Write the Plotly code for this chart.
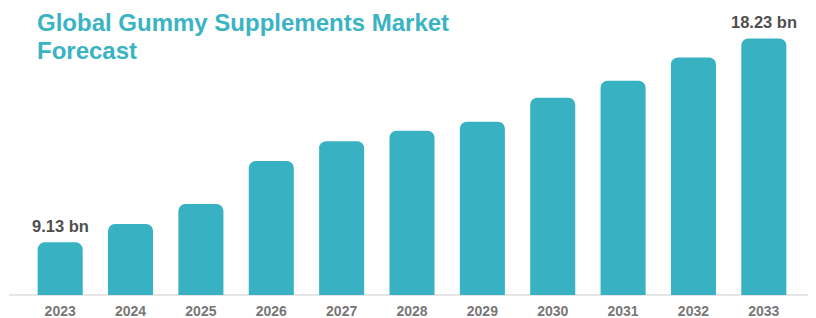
import plotly.graph_objects as go

years = ["2023", "2024", "2025", "2026", "2027", "2028", "2029", "2030", "2031", "2032", "2033"]
values = [9.13, 9.95, 10.84, 12.76, 13.64, 14.11, 14.51, 15.58, 16.34, 17.38, 18.23]
label_idx = [0, 10]
title_lines = ["Global Gummy Supplements Market", "Forecast"]

BAR = "#38B2C2"
FONT = "Liberation Sans, Arial, Helvetica, sans-serif"

fig = go.Figure()
fig.add_trace(go.Bar(
    x=years, y=values,
    marker=dict(color=BAR, cornerradius=7, line=dict(width=0)),
    width=0.64,
    hoverinfo="skip",
))

for i in label_idx:
    fig.add_annotation(
        x=i, y=values[i], text=f"<b>{values[i]:.2f} bn</b>",
        showarrow=False, yanchor="bottom", yshift=5,
        font=dict(family=FONT, size=16.5, color="#4f4f4f"),
    )

for k, line in enumerate(title_lines):
    fig.add_annotation(
        xref="paper", yref="paper", x=0.0127, y=1.0, xanchor="left", yanchor="middle",
        text=f"<b>{line}</b>", align="left", showarrow=False,
        font=dict(family=FONT, size=24, color="#3AB3C3"), yshift=-2 - 28 * k,
    )

fig.add_shape(type="line", xref="paper", yref="paper", x0=-0.0207, x1=1.0137, y0=0, y1=0,
              line=dict(color="#E6E6E6", width=2), layer="below")

fig.update_layout(
    width=816, height=318,
    margin=dict(l=17, r=25, t=12, b=31, autoexpand=False),
    plot_bgcolor="white", paper_bgcolor="white",
    showlegend=False,
    xaxis=dict(
        type="category", range=[-0.5, 10.5], showgrid=False, showline=False, zeroline=False,
        automargin=False,
        ticks="", tickfont=dict(family=FONT, size=14, color="#777777", weight="bold"),
        ticklabelstandoff=6,
    ),
    yaxis=dict(range=[6.78, 19.05], visible=False, showgrid=False, zeroline=False, automargin=False),
)

fig.write_html("out.html")
